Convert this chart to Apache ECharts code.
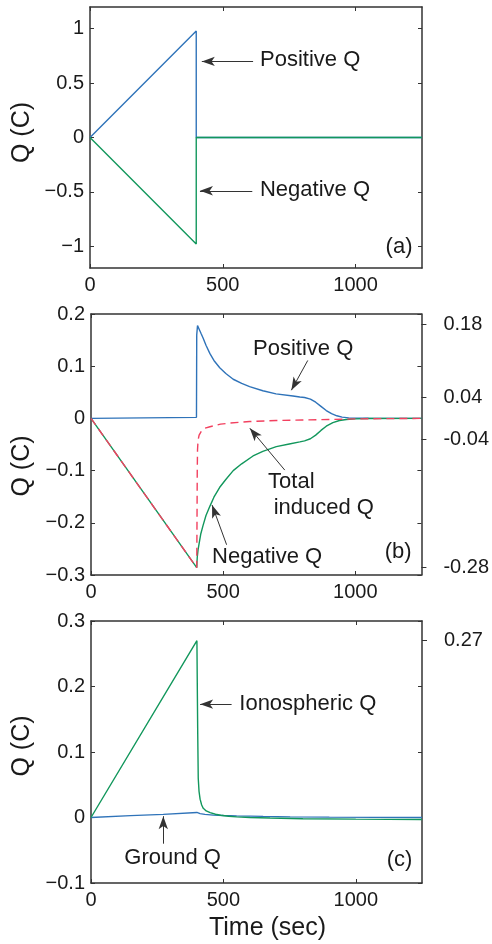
<!DOCTYPE html>
<html><head><meta charset="utf-8">
<script src="https://cdn.jsdelivr.net/npm/echarts@6/dist/echarts.min.js"></script>
<style>html,body{margin:0;padding:0;background:#fff}#c{width:492px;height:944px}</style>
</head><body><div id="c"></div>
<script>
// ---------- data ----------
const xTicks = [0, 500, 1000];
const yTicksA = [-1, -0.5, 0, 0.5, 1];
const yTicksB = [-0.3, -0.2, -0.1, 0, 0.1, 0.2];
const yTicksC = [-0.1, 0, 0.1, 0.2, 0.3];
const rightValsB = [0.18, 0.04, -0.04, -0.286];
const rightLabelsB = ['0.18', '0.04', '-0.04', '-0.28'];
const rightValsC = [0.27];
const rightLabelsC = ['0.27'];

// panel (a)
const tA = [0, 400, 400, 1250];
const posA = [0, 0.98, 0, 0];
const negA = [0, -0.98, 0, 0];

// panel (b)
const tPosB = [0, 399, 400, 403, 406, 410, 416, 424, 435, 450, 465, 487, 510, 538, 570, 600, 650, 700, 764, 790, 808, 830, 850, 870, 890, 910, 930, 950, 975, 1000, 1050, 1250];
const posB = [0, 0.002, 0.16, 0.178, 0.177, 0.170, 0.163, 0.154, 0.140, 0.124, 0.111, 0.097, 0.086, 0.075, 0.067, 0.061, 0.053, 0.047, 0.043, 0.041, 0.040, 0.037, 0.031, 0.023, 0.015, 0.009, 0.005, 0.0025, 0.001, 0.0005, 0.0002, 0];
const tNegB = [0, 400, 402, 405, 409, 415, 424, 435, 450, 465, 487, 510, 538, 570, 613, 650, 701, 750, 790, 808, 830, 850, 870, 890, 915, 940, 966, 1000, 1050, 1250];
const negB = [0, -0.286, -0.266, -0.252, -0.240, -0.222, -0.205, -0.186, -0.168, -0.151, -0.132, -0.117, -0.100, -0.087, -0.072, -0.063, -0.054, -0.049, -0.045, -0.043, -0.039, -0.032, -0.023, -0.015, -0.008, -0.004, -0.002, -0.001, -0.0003, 0];
const tTotB = [0, 400, 401, 402, 403, 405, 409, 418, 430, 450, 490, 525, 600, 700, 800, 900, 1000, 1100, 1250];
const totB = [0, -0.286, -0.2, -0.1, -0.06, -0.042, -0.032, -0.024, -0.019, -0.016, -0.011, -0.009, -0.006, -0.004, -0.003, -0.002, -0.001, -0.0005, 0];

// panel (c)
const tIonC = [0, 400, 401, 403, 405, 408, 412, 418, 424, 435, 450, 470, 490, 520, 550, 600, 676, 800, 1000, 1250];
const ionC = [0, 0.270, 0.22, 0.13, 0.06, 0.04, 0.028, 0.019, 0.014, 0.010, 0.0075, 0.005, 0.0035, 0.002, 0.001, 0, -0.0008, -0.0018, -0.0025, -0.003];
const tGndC = [0, 150, 273, 400, 405, 412, 430, 462, 500, 550, 650, 752, 900, 1250];
const gndC = [0, 0.0028, 0.0048, 0.0077, 0.0072, 0.006, 0.0048, 0.0037, 0.003, 0.0025, 0.0017, 0.001, 0.0005, 0];

// annotations (data coordinates)
const textA = [['Positive Q', 640, 0.709], ['Negative Q', 640, -0.478], ['(a)', 1113, -1.006]];
const arrowsA = [[614, 0.70, 421, 0.70], [611, -0.49, 414, -0.49]];
const textB = [['Positive Q', 613, 0.1325], ['Total', 670, -0.121], ['induced Q', 691, -0.172], ['Negative Q', 458, -0.2646], ['(b)', 1111, -0.255]];
const arrowsB = [[820, 0.111, 758, 0.054], [733, -0.099, 601, -0.019], [513, -0.242, 458, -0.166]];
const textC = [['Ionospheric Q', 560, 0.173], ['Ground Q', 126, -0.0613], ['(c)', 1117, -0.065]];
const arrowsC = [[531, 0.173, 412, 0.173], [273, -0.040, 273, 0.002]];

// ---------- styles ----------
const FONT = '"Liberation Sans", Arial, Helvetica, sans-serif';
const AX = '#333333';
const TXT = '#1a1a1a';
const BLUE = '#2f73b9', GREEN = '#12975c', RED = '#f2405f';
const XMAX = 1250;

const grids = [
  {left: 90, top: 7, width: 332, height: 261},
  {left: 91, top: 314, width: 331, height: 261},
  {left: 91, top: 621, width: 331, height: 262}
];

function zip(t, v) { return t.map((x, i) => [x, v[i]]); }
const minus = v => (v < 0 ? '\u2212' : '') + String(Math.abs(v));

function xAx(g, pos, showLabel) {
  return {
    type: 'value', gridIndex: g, position: pos, min: 0, max: XMAX,
    axisLine: {show: true, onZero: false, lineStyle: {color: AX, width: 1.5}},
    axisTick: {show: true, inside: true, length: 4, customValues: xTicks, lineStyle: {color: AX, width: 1}},
    axisLabel: {show: showLabel, customValues: xTicks, fontSize: 20, color: TXT, fontFamily: FONT, margin: 7,
      formatter: v => String(v)},
    splitLine: {show: false}
  };
}
function yAx(g, pos, min, max, ticks, showLabel) {
  return {
    type: 'value', gridIndex: g, position: pos, min: min, max: max,
    axisLine: {show: true, onZero: false, lineStyle: {color: AX, width: 1.5}},
    axisTick: {show: true, inside: true, length: 4, customValues: ticks, lineStyle: {color: AX, width: 1}},
    axisLabel: {show: showLabel, customValues: ticks, fontSize: 20, color: TXT, fontFamily: FONT, margin: 6, formatter: minus},
    splitLine: {show: false}
  };
}
function yRight(g, min, max, vals, labels) {
  return {
    type: 'value', gridIndex: g, position: 'right', offset: 0, min: min, max: max,
    axisLine: {show: false, onZero: false},
    axisTick: {show: true, inside: false, length: 5, customValues: vals, lineStyle: {color: AX, width: 1}},
    axisLabel: {show: true, customValues: vals, fontSize: 20, color: TXT, fontFamily: FONT, margin: 22,
      formatter: v => { const i = vals.findIndex(x => Math.abs(x - v) < 1e-9); return i >= 0 ? labels[i] : ''; }},
    splitLine: {show: false}
  };
}

function annot(texts, arrows) {
  return {
    markLine: {
      silent: true, animation: false, symbol: ['none', 'arrow'], symbolSize: [7, 13],
      lineStyle: {color: AX, width: 1, type: 'solid'}, label: {show: false},
      emphasis: {disabled: true},
      data: arrows.map(a => [{coord: [a[0], a[1]]}, {coord: [a[2], a[3]]}])
    },
    markPoint: {
      silent: true, animation: false, symbol: 'circle', symbolSize: 0,
      itemStyle: {color: 'rgba(0,0,0,0)'},
      label: {show: true, position: 'right', distance: 0, color: TXT, fontSize: 22, fontFamily: FONT},
      data: texts.map(t => ({coord: [t[1], t[2]], value: t[0], label: {formatter: t[0]}}))
    }
  };
}

function line(name, xi, yi, data, color, extra) {
  return Object.assign({
    type: 'line', name: name, xAxisIndex: xi, yAxisIndex: yi, data: data,
    showSymbol: false, symbol: 'none', smooth: false, animation: false,
    lineStyle: {color: color, width: 1.4}, itemStyle: {color: color}, z: 3
  }, extra || {});
}

const option = {
  animation: false,
  backgroundColor: '#ffffff',
  textStyle: {fontFamily: FONT},
  grid: grids.map(g => Object.assign({containLabel: false}, g)),
  xAxis: [xAx(0, 'bottom', true), xAx(0, 'top', false),
          xAx(1, 'bottom', true), xAx(1, 'top', false),
          xAx(2, 'bottom', true), xAx(2, 'top', false)],
  yAxis: [yAx(0, 'left', -1.2, 1.2, yTicksA, true), yAx(0, 'right', -1.2, 1.2, yTicksA, false),
          yAx(1, 'left', -0.3, 0.2, yTicksB, true), yAx(1, 'right', -0.3, 0.2, yTicksB, false),
          yRight(1, -0.3, 0.2, rightValsB, rightLabelsB),
          yAx(2, 'left', -0.1, 0.3, yTicksC, true), yAx(2, 'right', -0.1, 0.3, yTicksC, false),
          yRight(2, -0.1, 0.3, rightValsC, rightLabelsC)],
  series: [
    line('Positive Q (a)', 0, 0, zip(tA, posA), BLUE),
    line('Negative Q (a)', 0, 0, zip(tA, negA), GREEN, annot(textA, arrowsA)),
    line('Positive Q (b)', 2, 2, zip(tPosB, posB), BLUE),
    line('Negative Q (b)', 2, 2, zip(tNegB, negB), GREEN),
    line('Total induced Q (b)', 2, 2, zip(tTotB, totB), RED,
      Object.assign({lineStyle: {color: RED, width: 1.4, type: [8, 5]}}, annot(textB, arrowsB))),
    line('Ground Q (c)', 4, 5, zip(tGndC, gndC), BLUE),
    line('Ionospheric Q (c)', 4, 5, zip(tIonC, ionC), GREEN, annot(textC, arrowsC))
  ],
  graphic: [
    {type: 'text', x: 22.5, y: 132.5, rotation: Math.PI / 2,
     style: {text: 'Q (C)', fontSize: 25, fontFamily: FONT, fill: TXT, textAlign: 'center', textVerticalAlign: 'middle', verticalAlign: 'middle'}},
    {type: 'text', x: 22.5, y: 466, rotation: Math.PI / 2,
     style: {text: 'Q (C)', fontSize: 25, fontFamily: FONT, fill: TXT, textAlign: 'center', textVerticalAlign: 'middle', verticalAlign: 'middle'}},
    {type: 'text', x: 22.5, y: 746, rotation: Math.PI / 2,
     style: {text: 'Q (C)', fontSize: 25, fontFamily: FONT, fill: TXT, textAlign: 'center', textVerticalAlign: 'middle', verticalAlign: 'middle'}},
    {type: 'text', x: 267.5, y: 928,
     style: {text: 'Time (sec)', fontSize: 25, fontFamily: FONT, fill: TXT, textAlign: 'center', textVerticalAlign: 'middle', verticalAlign: 'middle'}}
  ]
};

const chart = echarts.init(document.getElementById('c'), null, {renderer: 'canvas'});
chart.setOption(option);
</script>
</body></html>
